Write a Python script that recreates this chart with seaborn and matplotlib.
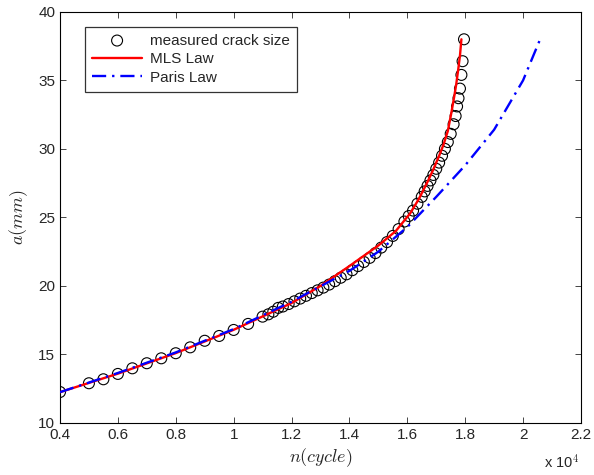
import matplotlib
matplotlib.use("Agg")
import matplotlib.pyplot as plt
import seaborn as sns
import numpy as np
import pandas as pd
from matplotlib.ticker import FuncFormatter, MultipleLocator

# measured crack size (n in units of 10^4 cycles, a in mm)
meas_n = [0.40, 0.50, 0.55, 0.60, 0.65, 0.70, 0.75, 0.80, 0.85, 0.90, 0.95, 1.00, 1.05,
          1.10, 1.12, 1.137, 1.154,
          1.17, 1.19, 1.21, 1.23, 1.25, 1.27, 1.29, 1.31, 1.33, 1.35, 1.37, 1.39, 1.41,
          1.43, 1.45, 1.47, 1.49, 1.51, 1.53, 1.55, 1.57, 1.59, 1.605,
          1.62, 1.635, 1.65, 1.66, 1.67, 1.68, 1.69, 1.70, 1.71, 1.72, 1.73, 1.74,
          1.75, 1.76, 1.767, 1.772, 1.777, 1.782, 1.787, 1.791, 1.796]
meas_a = [12.26, 12.90, 13.19, 13.58, 13.99, 14.36, 14.72, 15.09, 15.52, 16.00, 16.35, 16.79, 17.23,
          17.76, 17.93, 18.12, 18.40,
          18.50, 18.68, 18.88, 19.08, 19.28, 19.48, 19.68, 19.88, 20.10, 20.35, 20.60, 20.85, 21.15,
          21.45, 21.75, 22.05, 22.40, 22.80, 23.20, 23.65, 24.15, 24.70, 25.10,
          25.50, 26.00, 26.50, 26.90, 27.30, 27.70, 28.10, 28.55, 29.00, 29.50, 30.00, 30.50,
          31.10, 31.80, 32.40, 33.10, 33.70, 34.40, 35.40, 36.40, 38.00]

mls_n = [0.40, 0.60, 0.80, 1.00, 1.20, 1.30, 1.40, 1.50, 1.56, 1.61, 1.64, 1.67, 1.69, 1.71,
         1.725, 1.74, 1.752, 1.762, 1.769, 1.776, 1.782, 1.787]
mls_a = [12.25, 13.60, 15.10, 16.80, 18.75, 20.00, 21.45, 22.95, 24.00, 25.30, 26.35, 27.60,
         28.50, 29.50, 30.30, 31.30, 32.60, 33.80, 34.70, 35.80, 36.80, 38.00]

paris_n = [0.40, 0.60, 0.80, 1.00, 1.20, 1.40, 1.50, 1.60, 1.70, 1.80, 1.90, 2.00, 2.059]
paris_a = [12.25, 13.65, 15.15, 16.85, 18.85, 21.10, 22.50, 24.30, 26.50, 28.80, 31.40, 35.00, 38.00]

meas = pd.DataFrame({"n": np.array(meas_n) * 1e4, "a": meas_a})
mls = pd.DataFrame({"n": np.array(mls_n) * 1e4, "a": mls_a})
paris = pd.DataFrame({"n": np.array(paris_n) * 1e4, "a": paris_a})

sns.set_style("ticks")
plt.rcParams['font.family'] = ['Liberation Sans', 'DejaVu Sans']
plt.rcParams['mathtext.fontset'] = 'cm'

fig = plt.figure(figsize=(5.94, 4.75), dpi=100)
ax = fig.add_axes([0.101, 0.1095, 0.877, 0.8655])

sns.scatterplot(data=meas, x="n", y="a", ax=ax, marker="o", s=62,
                facecolor="none", edgecolor="black", linewidth=0.8,
                label="measured crack size")
sns.lineplot(data=mls, x="n", y="a", ax=ax, color="red", linewidth=1.7,
             estimator=None, sort=False, label="MLS Law")
sns.lineplot(data=paris, x="n", y="a", ax=ax, color="blue", linewidth=1.7,
             estimator=None, sort=False, label="Paris Law")
ax.lines[-1].set_dashes([6, 2.5, 1, 2.5])
ax.collections[0].set_zorder(1)
for ln in ax.lines:
    ln.set_zorder(4)

ax.set_xlim(4000, 22000)
ax.set_ylim(10, 40)
ax.xaxis.set_major_locator(MultipleLocator(2000))
ax.yaxis.set_major_locator(MultipleLocator(5))
ax.xaxis.set_major_formatter(FuncFormatter(lambda v, p: f"{v / 1e4:g}"))
ax.tick_params(direction="in", top=True, right=True, labelsize=11, length=4, width=0.6)
for s in ax.spines.values():
    s.set_linewidth(0.8)
    s.set_color("black")

ax.set_xlabel("$n(cycle)$", fontsize=13, labelpad=3)
ax.set_ylabel("$a(mm)$", fontsize=13, labelpad=6)
fig.text(0.915, 0.016, "x 10$^{4}$", fontsize=10.5)

leg = ax.legend(loc="upper left", bbox_to_anchor=(0.048, 0.964), borderaxespad=0,
                fontsize=11, frameon=True, fancybox=False, handlelength=3.3,
                borderpad=0.45, labelspacing=0.3, handletextpad=0.5)
leg.get_frame().set_edgecolor("black")
leg.get_frame().set_linewidth(0.9)

fig.savefig("out.png", dpi=100)
